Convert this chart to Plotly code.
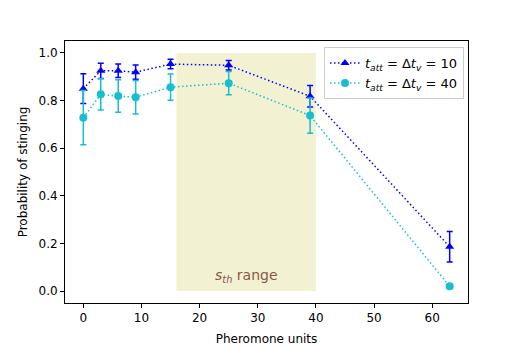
import plotly.graph_objects as go

pheromone = [0, 3, 6, 9, 15, 25, 39, 63]

p_sting_10 = [0.85, 0.925, 0.925, 0.919, 0.953, 0.948, 0.818, 0.186]
err_10 = [0.062, 0.032, 0.028, 0.03, 0.02, 0.02, 0.045, 0.064]

p_sting_40 = [0.728, 0.826, 0.819, 0.814, 0.856, 0.873, 0.737, 0.02]
err_40 = [0.114, 0.066, 0.068, 0.07, 0.055, 0.049, 0.074, 0.01]

s_th_low, s_th_high = 16, 40

font = dict(family="DejaVu Sans", size=12, color="black")

fig = go.Figure()

fig.add_shape(type="rect", x0=s_th_low, x1=s_th_high, y0=0, y1=1,
              xref="x", yref="y", fillcolor="rgba(188,189,34,0.2)",
              line=dict(width=0), layer="below")

fig.add_trace(go.Scatter(
    x=pheromone, y=p_sting_10,
    error_y=dict(type="data", array=err_10, color="blue", thickness=1.5, width=3),
    mode="lines+markers",
    line=dict(color="blue", dash="1.5px,2.5px", width=1.5),
    marker=dict(symbol="triangle-up", size=8, color="blue"),
    name="<i>t</i><sub><i>att</i></sub> = Δ<i>t</i><sub><i>v</i></sub> = 10"
))

fig.add_trace(go.Scatter(
    x=pheromone, y=p_sting_40,
    error_y=dict(type="data", array=err_40, color="#17becf", thickness=1.5, width=3),
    mode="lines+markers",
    line=dict(color="#17becf", dash="1.5px,2.5px", width=1.5),
    marker=dict(symbol="circle", size=8, color="#17becf"),
    name="<i>t</i><sub><i>att</i></sub> = Δ<i>t</i><sub><i>v</i></sub> = 40"
))

fig.add_annotation(x=28, y=0.065, xref="x", yref="y", showarrow=False,
                   text="<i>s</i><sub><i>th</i></sub> range",
                   font=dict(family="DejaVu Sans", size=14, color="#8c564b"))

axis = dict(showline=True, linecolor="black", linewidth=1, mirror=True,
            ticks="outside", ticklen=4, tickcolor="black", showgrid=False,
            zeroline=False, tickfont=font, automargin=False)

# page body adds an 8px offset, so the figure is drawn 8px smaller
fig.update_layout(
    width=512, height=338,
    margin=dict(l=57, r=52, t=33, b=43),
    plot_bgcolor="white", paper_bgcolor="white",
    font=font,
    showlegend=True,
    legend=dict(x=0.99, y=0.977, xanchor="right", yanchor="top",
                bgcolor="rgba(255,255,255,0.8)", bordercolor="#cccccc",
                borderwidth=1, font=dict(family="DejaVu Sans", size=13)),
    xaxis=dict(axis, range=[-3.15, 66.15], tickvals=[0, 10, 20, 30, 40, 50, 60],
               title=dict(text="Pheromone units", font=font, standoff=11)),
    yaxis=dict(axis, range=[-0.05, 1.05], tickvals=[0, 0.2, 0.4, 0.6, 0.8, 1.0],
               tickformat=".1f",
               title=dict(text="Probability of stinging", font=font, standoff=8)),
)

fig.write_html("out.html")
